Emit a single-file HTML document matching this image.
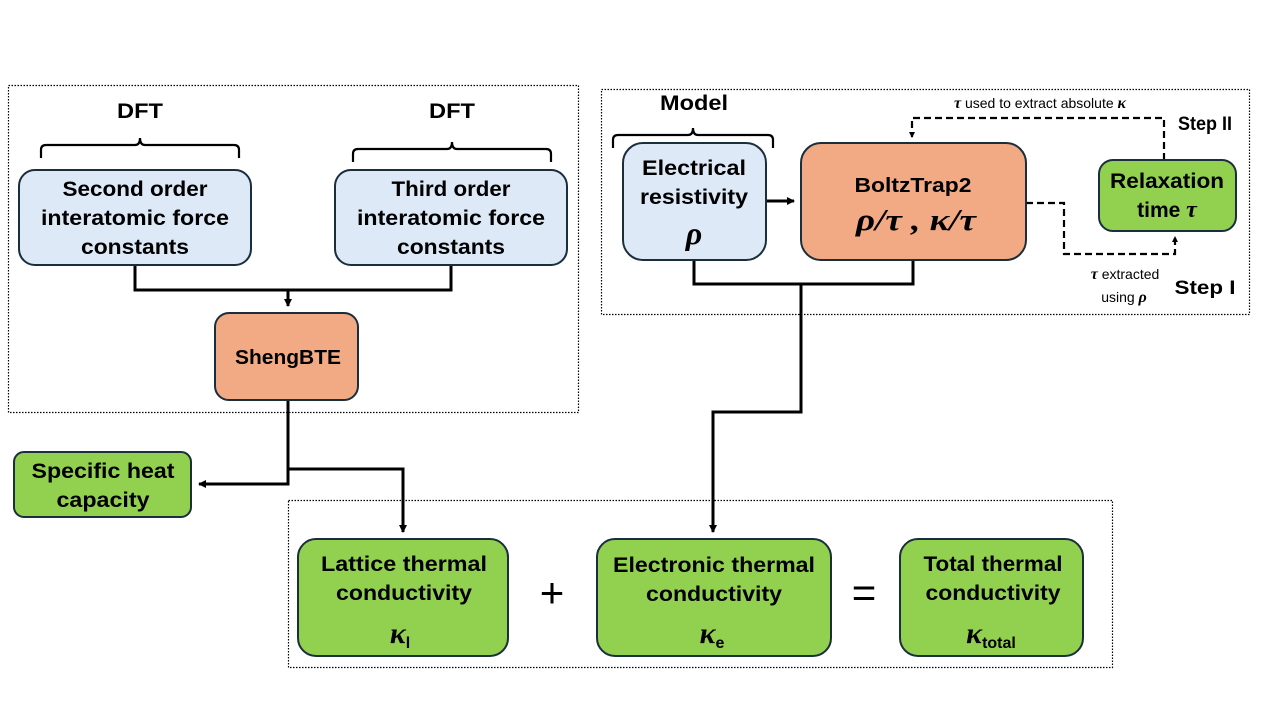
<!DOCTYPE html>
<html><head><meta charset="utf-8"><style>
html,body{margin:0;padding:0;background:#fff}
svg{display:block}
text{font-family:"Liberation Sans",sans-serif;font-weight:bold;fill:#000}
.m{font-family:"Liberation Serif",serif;font-style:italic;font-weight:bold}
.n{font-weight:normal}
</style></head><body>
<svg width="1280" height="720" viewBox="0 0 1280 720" xmlns="http://www.w3.org/2000/svg">
<defs>
<marker id="a" markerWidth="8" markerHeight="8" refX="7" refY="4" orient="auto" markerUnits="userSpaceOnUse"><path d="M0,0 L8,4 L0,8z" fill="#000"/></marker>
<marker id="s" markerWidth="6" markerHeight="6" refX="5" refY="3" orient="auto" markerUnits="userSpaceOnUse"><path d="M0,0 L6,3 L0,6z" fill="#000"/></marker>
</defs>
<g fill="none" stroke="#000" stroke-width="1.2" stroke-dasharray="1.5,1.5">
<rect x="8.5" y="85.5" width="570" height="327"/>
<rect x="601.5" y="89.5" width="648" height="225"/>
<rect x="288.5" y="500.5" width="824" height="167"/>
</g>
<g fill="none" stroke="#000" stroke-width="2.2">
<path d="M41,158 V150 Q41,145 46,145 H135 Q140,145 140,138 Q140,145 145,145 H234 Q239,145 239,150 V158"/>
<path d="M353,162 V154 Q353,149 358,149 H447 Q452,149 452,142 Q452,149 457,149 H546 Q551,149 551,154 V162"/>
<path d="M613,148 V140 Q613,135 618,135 H688 Q693,135 693,128 Q693,135 698,135 H768 Q773,135 773,140 V148"/>
</g>
<text x="140" y="118" text-anchor="middle" font-size="21" textLength="46" lengthAdjust="spacingAndGlyphs">DFT</text>
<text x="452" y="118" text-anchor="middle" font-size="21" textLength="46" lengthAdjust="spacingAndGlyphs">DFT</text>
<text x="694" y="110" text-anchor="middle" font-size="21" textLength="68" lengthAdjust="spacingAndGlyphs">Model</text>
<g fill="none" stroke="#000" stroke-width="3">
<path d="M135,265 V290 H451 V265"/>
<path d="M288,290 V306" marker-end="url(#a)"/>
<path d="M288,400 V484 H199" marker-end="url(#a)"/>
<path d="M288,469 H403 V532" marker-end="url(#a)"/>
<path d="M694,260 V284 H913 V260"/>
<path d="M801,284 V412 H713 V532" marker-end="url(#a)"/>
<path d="M766,201 H794" marker-end="url(#a)"/>
</g>
<g fill="none" stroke="#000" stroke-width="2.2" stroke-dasharray="7,4">
<path d="M1026,203 H1064 V254 H1175 V237" marker-end="url(#s)"/>
<path d="M1164,160 V118 H912 V137" marker-end="url(#s)"/>
</g>
<g stroke="#1b2e3c" stroke-width="2">
<rect x="19" y="170" width="232" height="95" rx="16" fill="#dde9f6"/>
<rect x="335" y="170" width="232" height="95" rx="16" fill="#dde9f6"/>
<rect x="215" y="313" width="143" height="87" rx="14" fill="#f2aa84"/>
<rect x="623" y="143" width="143" height="117" rx="20" fill="#dde9f6"/>
<rect x="801" y="143" width="225" height="117" rx="20" fill="#f2aa84"/>
<rect x="1099" y="160" width="137" height="71" rx="14" fill="#92d050"/>
<rect x="14" y="452" width="177" height="65" rx="10" fill="#92d050"/>
<rect x="298" y="539" width="210" height="117" rx="18" fill="#92d050"/>
<rect x="597" y="539" width="234" height="117" rx="18" fill="#92d050"/>
<rect x="900" y="539" width="183" height="117" rx="18" fill="#92d050"/>
</g>
<g text-anchor="middle" font-size="21" lengthAdjust="spacingAndGlyphs">
<text x="135" y="196" textLength="145" lengthAdjust="spacingAndGlyphs">Second order</text>
<text x="135" y="225" textLength="188" lengthAdjust="spacingAndGlyphs">interatomic force</text>
<text x="135" y="254" textLength="108" lengthAdjust="spacingAndGlyphs">constants</text>
<text x="451" y="196" textLength="119" lengthAdjust="spacingAndGlyphs">Third order</text>
<text x="451" y="225" textLength="188" lengthAdjust="spacingAndGlyphs">interatomic force</text>
<text x="451" y="254" textLength="108" lengthAdjust="spacingAndGlyphs">constants</text>
<text x="288" y="364" font-size="20" textLength="106" lengthAdjust="spacingAndGlyphs">ShengBTE</text>
<text x="694" y="175" textLength="104" lengthAdjust="spacingAndGlyphs">Electrical</text>
<text x="694" y="204" textLength="108" lengthAdjust="spacingAndGlyphs">resistivity</text>
<text x="694" y="244" class="m" font-size="32">ρ</text>
<text x="913" y="192" font-size="20" textLength="117" lengthAdjust="spacingAndGlyphs">BoltzTrap2</text>
<text x="916" y="230" class="m" font-size="31" textLength="120" lengthAdjust="spacingAndGlyphs">ρ/τ , κ/τ</text>
<text x="1167" y="188" textLength="114" lengthAdjust="spacingAndGlyphs">Relaxation</text>
<text x="1167" y="217">time <tspan class="m" font-size="24">τ</tspan></text>
<text x="103" y="478" textLength="143" lengthAdjust="spacingAndGlyphs">Specific heat</text>
<text x="103" y="507" textLength="93" lengthAdjust="spacingAndGlyphs">capacity</text>
<text x="404" y="571" textLength="166" lengthAdjust="spacingAndGlyphs">Lattice thermal</text>
<text x="404" y="600" textLength="136" lengthAdjust="spacingAndGlyphs">conductivity</text>
<text x="400" y="643"><tspan class="m" font-size="30">κ</tspan><tspan font-size="16" dy="5">l</tspan></text>
<text x="714" y="572" textLength="202" lengthAdjust="spacingAndGlyphs">Electronic thermal</text>
<text x="714" y="601" textLength="136" lengthAdjust="spacingAndGlyphs">conductivity</text>
<text x="712" y="643"><tspan class="m" font-size="30">κ</tspan><tspan font-size="16" dy="5">e</tspan></text>
<text x="993" y="571" textLength="139" lengthAdjust="spacingAndGlyphs">Total thermal</text>
<text x="993" y="600" textLength="135" lengthAdjust="spacingAndGlyphs">conductivity</text>
<text x="991" y="643"><tspan class="m" font-size="30">κ</tspan><tspan font-size="16" dy="5">total</tspan></text>
</g>
<text x="552" y="607" text-anchor="middle" font-size="42" class="n">+</text>
<text x="864" y="607" text-anchor="middle" font-size="42" class="n">=</text>
<text x="1040" y="108" text-anchor="middle" font-size="14" class="n"><tspan class="m" font-size="16">τ</tspan> used to extract absolute <tspan class="m" font-size="16">κ</tspan></text>
<text x="1205" y="130" text-anchor="middle" font-size="19" textLength="54" lengthAdjust="spacingAndGlyphs">Step II</text>
<text x="1125" y="279" text-anchor="middle" font-size="14" class="n"><tspan class="m" font-size="16">τ</tspan> extracted</text>
<text x="1124" y="302" text-anchor="middle" font-size="14" class="n">using <tspan class="m" font-size="16">ρ</tspan></text>
<text x="1205" y="294" text-anchor="middle" font-size="19" textLength="61" lengthAdjust="spacingAndGlyphs">Step I</text>
</svg>
</body></html>
